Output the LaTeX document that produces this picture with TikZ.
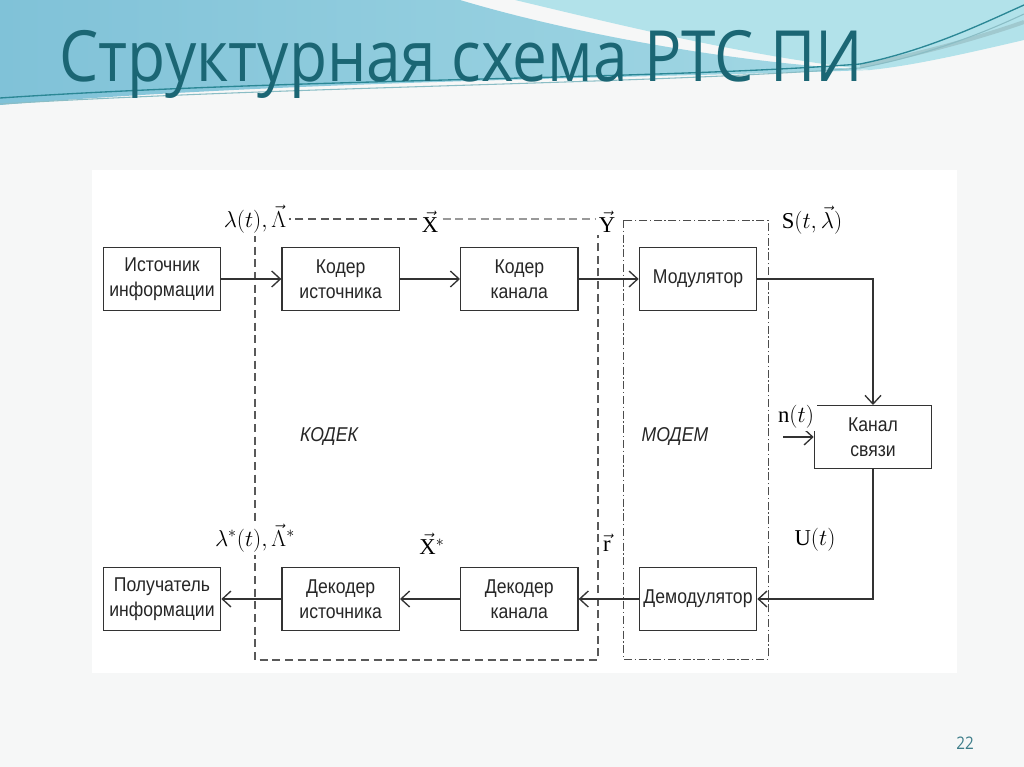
\documentclass[tikz,border=0pt]{standalone}
\usepackage{fontspec}
\setmainfont{Liberation Serif}
\newfontfamily\boxfont[FakeStretch=0.88]{Liberation Sans}
\newfontfamily\titlefont[FakeStretch=0.88]{Open Sans}
\usetikzlibrary{arrows.meta, positioning}
\definecolor{slidebg}{HTML}{F6F7F7}
\definecolor{waveA}{HTML}{80C2D8}
\definecolor{waveB}{HTML}{A3D8E4}
\definecolor{waveC}{HTML}{B2E2EA}
\definecolor{waveline}{HTML}{2B8795}
\definecolor{titleteal}{HTML}{1B6674}
\definecolor{boxline}{HTML}{333333}
\tikzset{
  block/.style={
    draw=boxline, line width=1pt, fill=white,
    minimum width=88pt, minimum height=47pt,
    align=center, inner sep=2pt, text=black!85,
    font=\boxfont\fontsize{15}{18.5}\selectfont
  },
  sarrow/.style={-{Straight Barb[length=6.5pt, width=12pt]}, line width=1pt, color=boxline},
  siglabel/.style={fill=white, inner sep=2pt, font=\fontsize{17}{20}\selectfont},
  unitlabel/.style={font=\boxfont\itshape\fontsize{15}{18}\selectfont, text=black!85},
  codecframe/.style={dash pattern=on 6pt off 3.5pt, line width=0.8pt, color=black!65},
  modemframe/.style={dash pattern=on 6pt off 2pt on 1pt off 2pt, line width=0.7pt, color=black!70}
}

\begin{document}
\begin{tikzpicture}[x=0.75pt, y=-0.75pt, node distance=45pt]
  \useasboundingbox (0,0) rectangle (1024,767);
  % slide background and header waves
  \fill[slidebg] (0,0) rectangle (1024,767);
  \shade[left color=waveA, right color=waveB] (0,0) -- (460,0)
    .. controls (560,30) and (720,62) .. (870,70)
    .. controls (650,78) and (300,80) .. (0,105) -- cycle;
  \fill[waveC] (515,0) -- (1024,0) -- (1024,40)
    .. controls (960,55) and (910,66) .. (870,70)
    .. controls (740,55) and (620,25) .. (515,0) -- cycle;
  \draw[waveline!45, line width=3pt] (860,66) .. controls (930,52) and (990,34) .. (1024,22);
  \draw[waveline, line width=1pt] (0,98) .. controls (300,78) and (650,80) .. (860,64)
    .. controls (930,50) and (990,20) .. (1024,5);
  \draw[waveline!55, line width=0.8pt] (0,104) .. controls (300,86) and (650,84) .. (860,68)
    .. controls (930,55) and (990,30) .. (1024,14);
  \node[anchor=base west, inner sep=0, text=titleteal,
    font=\titlefont\fontsize{53}{60}\selectfont] (title) at (59,81) {Структурная схема РТС ПИ};
  \node[text=titleteal!85, font=\titlefont\fontsize{13}{15}\selectfont] (pagenum) at (965,743) {22};

  % diagram panel
  \fill[white] (92,170) rectangle (957,673);

  % frames
  \coordinate (codecNW) at (255,219);
  \coordinate (codecN) at (430,219);
  \coordinate (codecNE) at (598,219);
  \coordinate (codecSW) at (255,660);
  \coordinate (codecSE) at (598,660);
  \draw[codecframe] (codecN) -- (codecNW) -- (codecSW) -- (codecSE) -- (codecNE);
  \draw[codecframe, color=black!40] (codecN) -- (codecNE);
  \coordinate (modemNW) at (623,220);
  \coordinate (modemSE) at (768,659);
  \draw[modemframe] (modemNW) rectangle (modemSE);

  % transmitter
  \node[block] (ist) at (162,279) {Источник\\информации};
  \node[block, right=of ist] (kodist) {Кодер\\источника};
  \node[block, right=of kodist] (kodkan) {Кодер\\канала};
  \node[block, right=of kodkan] (mod) {Модулятор};

  % channel
  \node[block] (kanal) at (873,437) {Канал\\связи};

  % receiver
  \node[block, below=192pt of ist] (pol) {Получатель\\информации};
  \node[block, below=192pt of kodist] (dekist) {Декодер\\источника};
  \node[block, below=192pt of kodkan] (dekkan) {Декодер\\канала};
  \node[block, below=192pt of mod] (demod) {Демодулятор};

  % arrows
  \draw[sarrow] (ist) -- (kodist);
  \draw[sarrow] (kodist) -- (kodkan);
  \draw[sarrow] (kodkan) -- (mod);
  \draw[sarrow] (mod) -| (kanal);
  \draw[sarrow] (kanal) |- (demod);
  \draw[sarrow] (demod) -- (dekkan);
  \draw[sarrow] (dekkan) -- (dekist);
  \draw[sarrow] (dekist) -- (pol);
  \coordinate (noise) at (783,437);
  \draw[sarrow] (noise) -- (kanal);

  % signal labels
  \node[siglabel] (lam) at (codecNW) {$\lambda(t), \vec{\Lambda}$};
  \node[siglabel] (xvec) at (430,222) {$\vec{\mathrm{X}}$};
  \node[siglabel] (yvec) at (607,222) {$\vec{\mathrm{Y}}$};
  \node[siglabel] (sig) at (812,220) {$\mathrm{S}(t, \vec{\lambda})$};
  \node[siglabel] (noiselbl) at (796,417) {$\mathrm{n}(t)$};
  \node[siglabel] (ulbl) at (815,540) {$\mathrm{U}(t)$};
  \node[siglabel] (lamstar) at (255,538) {$\lambda^{*}(t), \vec{\Lambda}^{*}$};
  \node[siglabel] (xstar) at (432,544) {$\vec{\mathrm{X}}^{*}$};
  \node[siglabel] (rvec) at (607,543) {$\vec{\mathrm{r}}$};
  \node[unitlabel] (kodek) at (329,437) {КОДЕК};
  \node[unitlabel] (modem) at (675,437) {МОДЕМ};
\end{tikzpicture}
\end{document}
